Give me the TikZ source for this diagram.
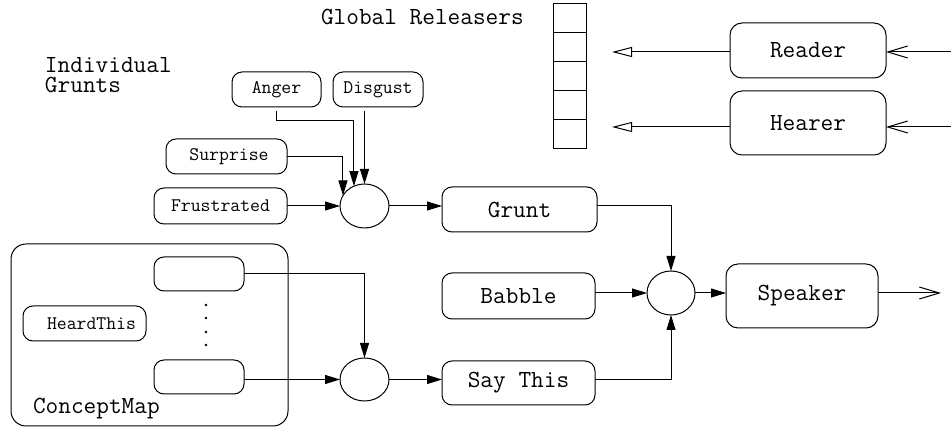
\documentclass[tikz,border=0pt]{standalone}
\usepackage{fontspec}
\usetikzlibrary{arrows.meta,shapes.geometric,calc}

\begin{document}
\begin{tikzpicture}[x=1pt,y=-1pt,
  every node/.style={inner sep=0pt, outer sep=0pt},
  big/.style={font=\ttfamily\fontsize{24.6}{20}\selectfont},
  small/.style={font=\ttfamily\fontsize{19.2}{21}\selectfont},
  rbox/.style={draw, rounded corners=10pt, line width=1pt},
  junc/.style={draw, ellipse, line width=1pt},
  flow/.style={line width=1pt, -{Triangle[length=15pt,width=9pt]}},
  feed/.style={line width=1pt, -{Triangle[open,length=20pt,width=10pt]}},
  barb/.style={line width=1pt, -{Straight Barb[length=20pt,width=12pt]}},
  cell/.style={draw, line width=1pt, minimum width=33pt, minimum height=29pt},
]
\useasboundingbox (0,0) rectangle (951,427);

% labels
\node[big, anchor=base west] (glob) at (321,25) {Global Releasers};
\node[big, anchor=north west, align=left] (indiv) at (45,57) {Individual\\Grunts};

% global releaser stack
\node[cell] (rel1) at (569.5,18.5) {};
\node[cell] (rel2) at (569.5,47.5) {};
\node[cell] (rel3) at (569.5,76.5) {};
\node[cell] (rel4) at (569.5,105.5) {};
\node[cell] (rel5) at (569.5,134.5) {};

% reader / hearer
\node[rbox, big, rounded corners=12pt, minimum width=156pt, minimum height=55pt] (reader) at (808,50.5) {Reader\hspace{12pt}};
\node[rbox, big, rounded corners=12pt, minimum width=156pt, minimum height=64pt] (hearer) at (808,123) {Hearer\hspace{12pt}};

% individual grunts
\node[rbox, small, minimum width=89pt, minimum height=35pt] (anger) at (276.5,89.5) {Anger\hspace{18pt}};
\node[rbox, small, minimum width=90pt, minimum height=35pt] (disgust) at (378,89.5) {Disgust};
\node[rbox, small, minimum width=121pt, minimum height=35pt] (surprise) at (226.5,156.5) {\hspace{5pt}Surprise};
\node[rbox, small, minimum width=133pt, minimum height=36pt] (frustrated) at (220.5,206) {Frustrated\hspace{7pt}};
\node[junc, minimum width=49pt, minimum height=44pt] (c1) at (364.5,206) {};

% output path
\node[rbox, big, minimum width=155pt, minimum height=45pt] (grunt) at (519.5,209.5) {Grunt};
\node[rbox, big, minimum width=153pt, minimum height=46pt] (babble) at (518.5,296) {Babble};
\node[rbox, big, minimum width=153pt, minimum height=44pt] (saythis) at (518.5,383) {Say This\hspace{6pt}};
\node[junc, minimum width=48pt, minimum height=44pt] (c2) at (671,293) {};
\node[rbox, big, rounded corners=12pt, minimum width=152pt, minimum height=64pt] (speaker) at (802,296) {Speaker};

% concept map
\node[draw, line width=1pt, rounded corners=15pt, minimum width=277pt, minimum height=182pt] (cmap) at (149.5,335) {};
\node[big, anchor=base west] (cmlabel) at (33,414) {ConceptMap};
\node[rbox, minimum width=90pt, minimum height=34pt] (cm1) at (199,274) {};
\node[rbox, minimum width=90pt, minimum height=34pt] (cm2) at (199,377) {};
\node[rbox, small, minimum width=123pt, minimum height=35pt] (heard) at (84.5,323.5) {\hspace{14pt}HeardThis};
\foreach \yy in {305,318,332,345} \fill (206,\yy) circle (1.4pt);
\node[junc, minimum width=49pt, minimum height=43pt] (c3) at (364.5,379.5) {};

% free ends
\coordinate (rtip) at (612,52);
\coordinate (htip) at (612,127);
\coordinate (rin) at (951,52);
\coordinate (hin) at (951,127);
\coordinate (spout) at (941,293);

% feeds to the releasers
\draw[feed] (reader.west |- rtip) -- (rtip);
\draw[feed] (hearer.west |- htip) -- (htip);
\draw[barb] (rin) -- (rin -| reader.east);
\draw[barb] (hin) -- (hin -| hearer.east);

% grunt combination
\draw[flow] (frustrated.east) -- (c1.west);
\draw[flow] (surprise.east) -| (c1.154);
\draw[flow] ([yshift=-4pt]anger.south) -- ++(0,10) -| (c1.118);
\draw[flow] ([yshift=-4pt]disgust.south -| c1.north) -- (c1.north);
\draw[flow] (c1.east) -- (c1.east -| grunt.west);

% speech combination
\draw[flow] (c1.east -| grunt.east) -| (c2.north);
\draw[flow] (babble.east |- c2.west) -- (c2.west);
\draw[flow] (c3.east -| saythis.east) -| (c2.south);
\draw[flow] (c2.east) -- (c2.east -| speaker.west);
\draw[barb] (c2.east -| speaker.east) -- (spout);

% concept map to say this
\draw[flow] (cm1.east) -| (c3.north);
\draw[flow] (c3.west -| cm2.east) -- (c3.west);
\draw[flow] (c3.east) -- (c3.east -| saythis.west);
\end{tikzpicture}
\end{document}
